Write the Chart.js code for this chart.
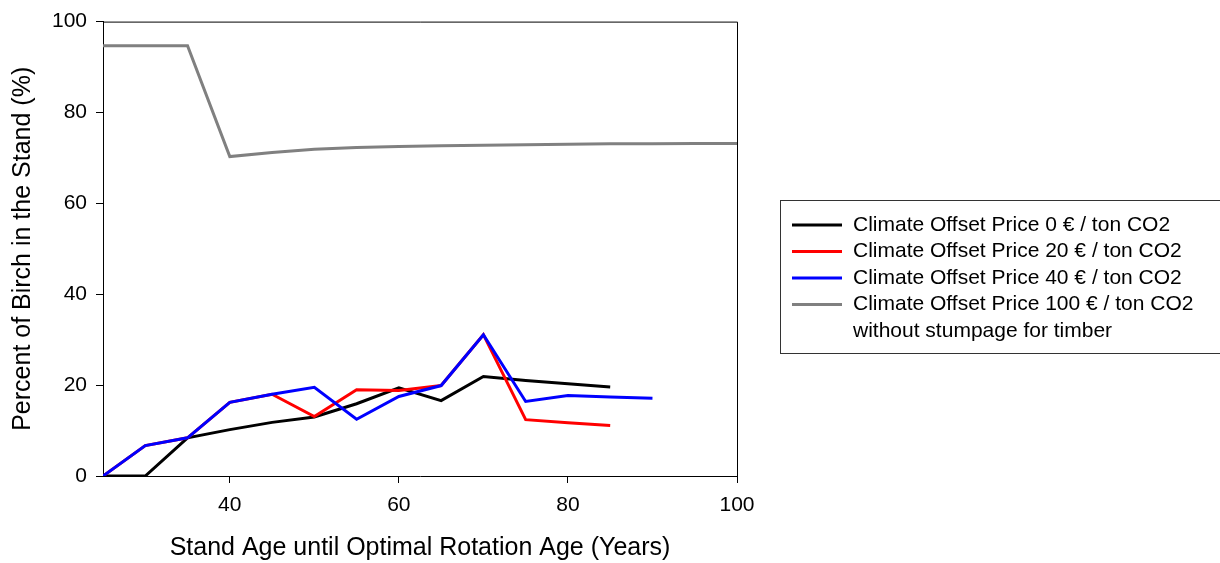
<!DOCTYPE html>
<html>
<head>
<meta charset="utf-8">
<script src="https://cdn.jsdelivr.net/npm/chart.js@4.4.0/dist/chart.umd.min.js"></script>
<style>
html, body { margin: 0; padding: 0; background: #fff; }
</style>
</head>
<body>
<canvas id="birchChart" width="1220" height="563"></canvas>
<script>
// stand age (years) and share of birch (%) per climate offset price
var ages = [25, 30, 35, 40, 45, 50, 55, 60, 65, 70, 75, 80, 85, 90, 95, 100];
var price0 = [0, 0, 8.4, 10.2, 11.8, 13.0, 15.9, 19.4, 16.6, 21.9, 21.0, 20.3, 19.6];
var price20 = [0, 6.7, 8.4, 16.2, 18.0, 13.1, 19.0, 18.8, 19.9, 31.1, 12.4, 11.7, 11.1];
var price40 = [0, 6.7, 8.4, 16.2, 18.0, 19.5, 12.5, 17.5, 19.9, 31.1, 16.4, 17.7, 17.4, 17.1];
var price100 = [94.7, 94.7, 94.7, 70.3, 71.2, 71.9, 72.3, 72.5, 72.7, 72.8, 72.9, 73.0, 73.1, 73.1, 73.2, 73.2];
var seriesLabels = [
    'Climate Offset Price 0 € / ton CO2',
    'Climate Offset Price 20 € / ton CO2',
    'Climate Offset Price 40 € / ton CO2',
    'Climate Offset Price 100 € / ton CO2\nwithout stumpage for timber'
];
var xTicks = [40, 60, 80, 100];
var yTicks = [0, 20, 40, 60, 80, 100];

var FONT = "'Liberation Sans', Arial, sans-serif";

function toPoints(values) {
    return values.map(function(v, i) { return { x: ages[i], y: v }; });
}

function lineSet(label, values, color, order) {
    return {
        label: label,
        data: toPoints(values),
        borderColor: color,
        backgroundColor: color,
        borderWidth: 3,
        pointRadius: 0,
        tension: 0,
        fill: false,
        order: order // lower order is drawn on top
    };
}

// box round the plot, axis titles and the legend
var decorations = {
    id: 'decorations',
    afterDatasetsDraw: function(chart) {
        var ctx = chart.ctx, a = chart.chartArea;
        ctx.save();
        ctx.strokeStyle = '#000';
        ctx.lineWidth = 1;
        ctx.beginPath();
        ctx.moveTo(a.left, a.top + 0.5);
        ctx.lineTo(a.right + 0.5, a.top + 0.5);
        ctx.lineTo(a.right + 0.5, a.bottom);
        ctx.stroke();
        ctx.restore();
    },
    afterDraw: function(chart) {
        var ctx = chart.ctx, a = chart.chartArea;
        ctx.save();
        ctx.fillStyle = '#000';
        ctx.font = '25px ' + FONT;
        ctx.textAlign = 'center';
        ctx.textBaseline = 'middle';
        ctx.fillText('Stand Age until Optimal Rotation Age (Years)', (a.left + a.right) / 2, 548);
        ctx.translate(23, (a.top + a.bottom) / 2);
        ctx.rotate(-Math.PI / 2);
        ctx.fillText('Percent of Birch in the Stand (%)', 0, 0);
        ctx.restore();

        // legend
        ctx.save();
        ctx.strokeStyle = '#333';
        ctx.lineWidth = 1;
        ctx.strokeRect(780.5, 200.5, 460, 153);
        ctx.font = '21px ' + FONT;
        ctx.textAlign = 'left';
        ctx.textBaseline = 'middle';
        var y = 225;
        chart.data.datasets.forEach(function(ds) {
            ctx.strokeStyle = ds.borderColor;
            ctx.lineWidth = 3;
            ctx.beginPath();
            ctx.moveTo(792, y);
            ctx.lineTo(842, y);
            ctx.stroke();
            ctx.fillStyle = '#000';
            ds.label.split('\n').forEach(function(line) {
                ctx.fillText(line, 853, y);
                y += 26.5;
            });
        });
        ctx.restore();
    }
};

var ctx = document.getElementById('birchChart').getContext('2d');
var birchChart = new Chart(ctx, {
    type: 'line',
    data: {
        datasets: [
            lineSet(seriesLabels[0], price0, '#000000', 4),
            lineSet(seriesLabels[1], price20, '#ff0000', 3),
            lineSet(seriesLabels[2], price40, '#0000ff', 2),
            lineSet(seriesLabels[3], price100, '#808080', 1)
        ]
    },
    options: {
        responsive: false,
        animation: false,
        devicePixelRatio: 1,
        layout: { padding: { top: 19, right: 483, left: 0, bottom: 0 } },
        plugins: {
            legend: { display: false },
            tooltip: { enabled: false }
        },
        scales: {
            x: {
                type: 'linear',
                min: 25,
                max: 100,
                afterBuildTicks: function(axis) {
                    axis.ticks = xTicks.map(function(v) { return { value: v }; });
                },
                afterFit: function(axis) { axis.height = 87; },
                grid: { drawOnChartArea: false, tickLength: 7, color: '#000' },
                border: { color: '#000' },
                ticks: { color: '#000', font: { family: FONT, size: 21 }, padding: 10, maxRotation: 0 }
            },
            y: {
                min: 0,
                max: 100,
                afterBuildTicks: function(axis) {
                    axis.ticks = yTicks.map(function(v) { return { value: v }; });
                },
                afterFit: function(axis) { axis.width = 103; },
                grid: { drawOnChartArea: false, tickLength: 7, color: '#000' },
                border: { color: '#000' },
                ticks: { color: '#000', font: { family: FONT, size: 21 }, padding: 9 }
            }
        }
    },
    plugins: [decorations]
});
</script>
</body>
</html>
